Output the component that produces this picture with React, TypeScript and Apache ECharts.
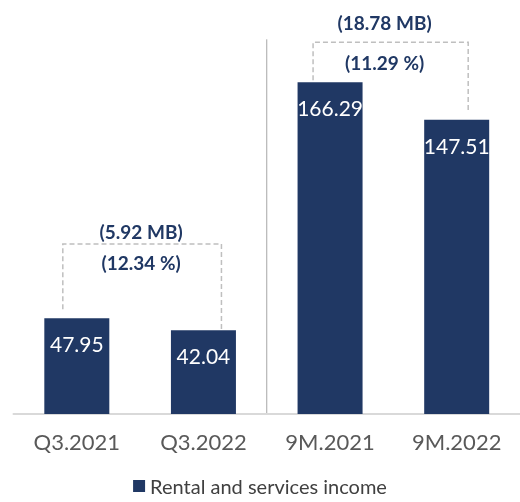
import React, { useEffect, useRef } from "react";
import * as echarts from "echarts";

const categories = ["Q3.2021", "Q3.2022", "9M.2021", "9M.2022"];
const values = [47.95, 42.04, 166.29, 147.51];
const seriesName = "Rental and services income";
const diffLabels = ["(5.92 MB)", "(18.78 MB)"];
const pctLabels = ["(12.34 %)", "(11.29 %)"];
// pairs of category indices compared by each bracket
const bracketPairs = [
  [0, 1],
  [2, 3],
];

const NAVY = "#203864";
const FONT = "Lato, 'DejaVu Sans', sans-serif";

// layout (pixels / value levels) for brackets
const bracketLayout = [
  { topValue: 85.2, leftOff: -14, rightOff: 18, leftGap: 9, rightGap: 0, textX: -1 },
  { topValue: 186.4, leftOff: -17, rightOff: 11.5, leftGap: 2, rightGap: 7.5, textX: -6 },
];

export default function App() {
  const ref = useRef<HTMLDivElement>(null);
  useEffect(() => {
    if (!ref.current) return;
    const chart = echarts.init(ref.current, undefined, { renderer: "svg" });
    chart.setOption({
      animation: false,
      textStyle: { fontFamily: FONT },
      grid: { left: 13.5, right: -6, top: 15, bottom: 88, containLabel: false },
      xAxis: {
        type: "category",
        data: categories,
        axisTick: { show: false },
        axisLine: { lineStyle: { color: "#d9d9d9", width: 2 } },
        axisLabel: { fontSize: 22, color: "#595959", margin: 16, fontFamily: FONT },
      },
      yAxis: { type: "value", min: 0, max: 200, show: false, splitLine: { show: false } },
      legend: {
        data: [seriesName],
        top: 476,
        left: "center",
        itemWidth: 12,
        itemHeight: 12,
        itemGap: 10,
        icon: "rect",
        padding: 0,
        textStyle: { fontSize: 20, color: "#404040", fontFamily: FONT },
      },
      series: [
        {
          name: seriesName,
          type: "bar",
          data: values,
          barWidth: 65,
          itemStyle: { color: NAVY },
          label: {
            show: true,
            position: "insideTop",
            distance: 15,
            fontSize: 21,
            color: "#ffffff",
            fontFamily: FONT,
          },
        },
      ],
    });

    const px = (i: number, v: number) =>
      chart.convertToPixel({ gridIndex: 0 }, [i, v]) as number[];

    const graphics: any[] = [];
    const dash = { stroke: "#bfbfbf", lineWidth: 1.5, lineDash: [5, 3] };
    bracketPairs.forEach(([a, b], k) => {
      const L = bracketLayout[k];
      const pa = px(a, values[a]);
      const pb = px(b, values[b]);
      const top = px(a, L.topValue)[1];
      const xl = pa[0] + L.leftOff;
      const xr = pb[0] + L.rightOff;
      graphics.push({
        type: "polyline",
        silent: true,
        shape: {
          points: [
            [xl, pa[1] - L.leftGap],
            [xl, top],
            [xr, top],
            [xr, pb[1] - L.rightGap],
          ],
        },
        style: { ...dash, fill: null },
      });
      const cx = (xl + xr) / 2 + L.textX;
      graphics.push({
        type: "text",
        x: cx,
        y: top - (k === 0 ? 13 : 20),
        silent: true,
        style: {
          text: diffLabels[k],
          fill: NAVY,
          font: `bold 19px ${FONT}`,
          align: "center",
          verticalAlign: "middle",
        },
      });
      graphics.push({
        type: "text",
        x: cx,
        y: top + (k === 0 ? 18 : 20),
        silent: true,
        style: {
          text: pctLabels[k],
          fill: NAVY,
          font: `bold 19px ${FONT}`,
          align: "center",
          verticalAlign: "middle",
        },
      });
    });
    // separator between quarter and nine-month groups
    const c1 = px(1, 0);
    const c2 = px(2, 187.8);
    const sx = (c1[0] + c2[0]) / 2;
    graphics.push({
      type: "line",
      silent: true,
      shape: { x1: sx, y1: c2[1], x2: sx, y2: c1[1] },
      style: { stroke: "#a6a6a6", lineWidth: 1 },
    });
    chart.setOption({ graphic: graphics });

    return () => chart.dispose();
  }, []);
  return (
    <div
      ref={ref}
      style={{ position: "fixed", left: 0, top: 0, width: 520, height: 502 }}
    />
  );
}
